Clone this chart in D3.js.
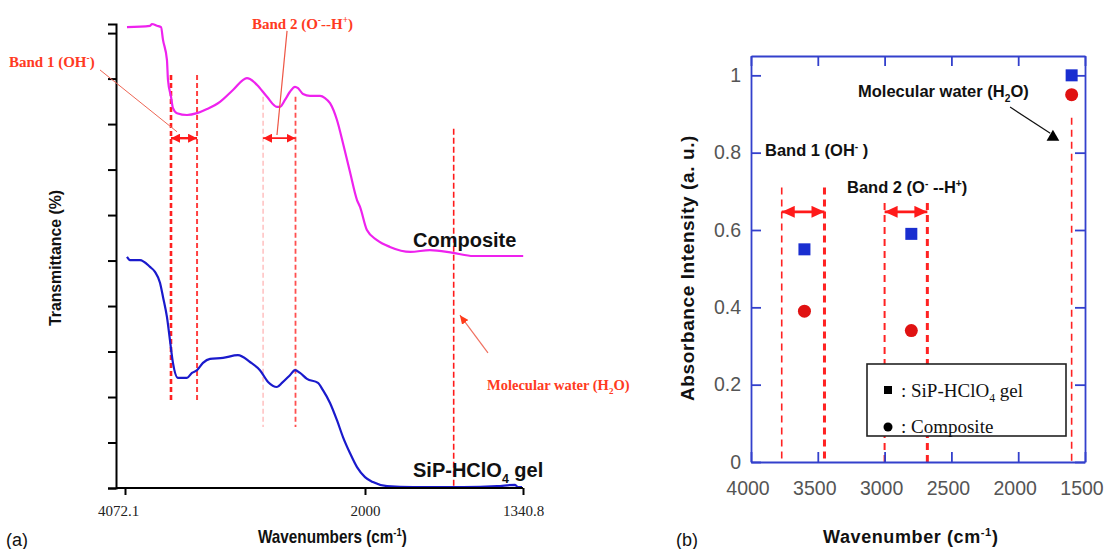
<!DOCTYPE html>
<html><head><meta charset="utf-8">
<script src="https://cdn.jsdelivr.net/npm/d3@7"></script>
<style>body{margin:0;background:#fff} svg{display:block}</style>
</head><body>
<svg id="chart" width="1106" height="549"></svg>
<script>
// ---------- Panel (a): FTIR transmittance spectra ----------
const wnGel = [4055,4029,3943,3856,3813,3770,3744,3710,3684,3658,3615,3537,3494,3450,3399,3338,3226,3097,2993,2907,2837,2760,2717,2648,2604,2561,2501,2406,2363,2302,2242,2190,2130,2069,2000,1967,1908,1800,1591,1449,1374,1362,1345];
const tGel  = [50.8,50.1,50.1,48.6,47.5,45.1,42.0,37.6,32.5,27.5,24.2,24.2,25.3,25.9,27.5,28.4,28.6,29.2,27.7,25.9,23.3,22.2,23.1,24.8,25.9,25.3,24.0,23.1,21.5,18.7,14.9,11.2,7.7,4.6,2.4,1.3,0.4,0.2,0.2,0.4,0.7,0.2,0.2];
const wnComp = [4055,3856,3839,3796,3761,3744,3710,3701,3675,3658,3623,3537,3450,3364,3252,3140,3019,2993,2932,2846,2760,2734,2691,2648,2604,2578,2535,2475,2388,2345,2302,2242,2190,2130,2069,2043,1992,1950,1896,1811,1729,1633,1548,1340];
const tComp  = [101.3,101.6,102.0,101.6,101.3,98.5,94.1,89.7,86.0,83.5,82.4,82.0,82.4,83.3,84.9,87.5,90.1,89.9,88.6,86.0,83.8,83.8,85.3,87.1,88.2,87.9,86.6,86.2,86.2,85.7,84.6,80.9,75.8,69.5,63.3,61.8,56.7,54.5,53.0,51.9,52.3,51.7,51.0,51.0];
const xTicksA = [4072.1, 2000, 1340.8];
const xTickLabelsA = ["4072.1", "2000", "1340.8"];
const yTicksA = [0,10,20,30,40,50,60,70,80,90,100];
// band marker lines (wavenumber, top value, bottom value)
const bandLinesA = [3675, 3450, 2880, 2600];
const bandTopA = [90.8, 90.8, 86.0, 86.0];
const bandBotA = [18.7, 18.7, 13.4, 13.4];
const waterLineA = 1630;

// ---------- Panel (b): absorbance intensity ----------
const wnB = [3600, 2800, 1600];
const gelB = [0.55, 0.59, 1.0];
const compB = [0.39, 0.34, 0.95];
const xTicksB = [4000, 3500, 3000, 2500, 2000, 1500];
const yTicksB = [0, 0.2, 0.4, 0.6, 0.8, 1];
const bandLinesB = [3770, 3450, 3000, 2680, 1600];
const bandTopB = [0.71, 0.71, 0.67, 0.67, 0.89];

const svg = d3.select("#chart");
svg.append("rect").attr("width",1106).attr("height",549).attr("fill","#fff");

function rich(sel, parts, size){
  let shift = 0;
  parts.forEach(([t,k])=>{
    const target = k==='sup' ? -0.38*size : k==='sub' ? 0.28*size : 0;
    const ts = sel.append("tspan").text(t).attr("dy", target - shift);
    if(k!=='n') ts.attr("font-size", size*0.62);
    shift = target;
  });
  return sel;
}
function arrowMarker(id, color, w, h){
  const m = svg.append("defs").append("marker").attr("id",id)
    .attr("viewBox",`0 0 ${w} ${h}`).attr("refX",w).attr("refY",h/2)
    .attr("markerWidth",w).attr("markerHeight",h).attr("markerUnits","userSpaceOnUse")
    .attr("orient","auto-start-reverse");
  m.append("path").attr("d",`M0,0L${w},${h/2}L0,${h}Z`).attr("fill",color);
}
arrowMarker("arA","#ff1a1a",9,9);
arrowMarker("arW","#ff3b1a",9,8);
arrowMarker("arB","#ff1a1a",13,12);

// ===== Panel (a) =====
const xA = d3.scaleLinear().domain([4072.1, 2000, 1340.8]).range([125, 365, 523]);
const yA = d3.scaleLinear().domain([0, 102]).range([488, 24]);
const gA = svg.append("g");

// band lines
const redA = ["#ff2020","#ff4040","#ffb0b0","#ff5050"];
const wA = [2.6, 2, 1.2, 1.8];
bandLinesA.forEach((w,i)=>{
  gA.append("line").attr("x1",xA(w)).attr("x2",xA(w)).attr("y1",yA(bandTopA[i])).attr("y2",yA(bandBotA[i]))
    .attr("stroke",redA[i]).attr("stroke-width",wA[i]).attr("stroke-dasharray","5,3");
});
gA.append("line").attr("x1",xA(waterLineA)).attr("x2",xA(waterLineA)).attr("y1",yA(79)).attr("y2",yA(0))
  .attr("stroke","#ff1a1a").attr("stroke-width",1.6).attr("stroke-dasharray","6,3");

// spectra
const lineA = d3.line().x(d=>xA(d[0])).y(d=>yA(d[1])).curve(d3.curveMonotoneX);
gA.append("path").datum(wnGel.map((w,i)=>[w,tGel[i]])).attr("d",lineA)
  .attr("fill","none").attr("stroke","#1a1acc").attr("stroke-width",2.2);
gA.append("path").datum(wnComp.map((w,i)=>[w,tComp[i]])).attr("d",lineA)
  .attr("fill","none").attr("stroke","#ee22ee").attr("stroke-width",2.2);

// axes
const yAxA = gA.append("g").attr("transform","translate(116,0)")
  .call(d3.axisLeft(yA).tickValues(yTicksA).tickSize(8).tickSizeOuter(8).tickFormat(""));
yAxA.selectAll("path,line").attr("stroke","#000").attr("stroke-width",2);
gA.append("line").attr("x1",116).attr("x2",xA(1340.8)).attr("y1",yA(0)).attr("y2",yA(0))
  .attr("stroke","#000").attr("stroke-width",2);
const xAxA = gA.append("g").attr("transform",`translate(0,${yA(0)})`)
  .call(d3.axisBottom(xA).tickValues(xTicksA).tickSize(7).tickPadding(10)
  .tickFormat((d,i)=>xTickLabelsA[i]));
xAxA.select(".domain").remove();
xAxA.selectAll("line").attr("stroke","#000").attr("stroke-width",2);
xAxA.selectAll("text").attr("font-family","Liberation Serif, Times New Roman, serif")
  .attr("font-size",15).attr("fill","#222").attr("dx",(d,i)=>i===0?-7:0);

// annotations (a)
const serifB = "Liberation Serif, Times New Roman, serif";
const sans = "Liberation Sans, Arial, sans-serif";
gA.append("line").attr("x1",xA(2880)).attr("x2",xA(2600)).attr("y1",yA(76.9)).attr("y2",yA(76.9))
  .attr("stroke","#ff1a1a").attr("stroke-width",1.8).attr("marker-start","url(#arA)").attr("marker-end","url(#arA)");
gA.append("line").attr("x1",xA(3675)).attr("x2",xA(3450)).attr("y1",yA(76.9)).attr("y2",yA(76.9))
  .attr("stroke","#ff1a1a").attr("stroke-width",2.4).attr("marker-start","url(#arA)").attr("marker-end","url(#arA)");
gA.append("line").attr("x1",xA(4288)).attr("y1",yA(91.9)).attr("x2",xA(3623)).attr("y2",yA(78.3))
  .attr("stroke","#ee6655").attr("stroke-width",1);
gA.append("line").attr("x1",xA(2673)).attr("y1",yA(100.5)).attr("x2",xA(2760)).attr("y2",yA(77.6))
  .attr("stroke","#ee5544").attr("stroke-width",1.2);
gA.append("line").attr("x1",xA(1487)).attr("y1",yA(29.7)).attr("x2",xA(1604)).attr("y2",yA(38.0))
  .attr("stroke","#f07060").attr("stroke-width",1.2).attr("marker-end","url(#arW)");

rich(gA.append("text").attr("x",9).attr("y",67).attr("font-family",serifB).attr("font-weight","bold")
  .attr("font-size",15).attr("fill","#ff3a22"), [["Band 1 (OH",'n'],["-",'sup'],[")",'n']], 15);
rich(gA.append("text").attr("x",252).attr("y",29).attr("font-family",serifB).attr("font-weight","bold")
  .attr("font-size",15).attr("fill","#ff3a22"), [["Band 2 (O",'n'],["-",'sup'],["--H",'n'],["+",'sup'],[")",'n']], 15);
rich(gA.append("text").attr("x",487).attr("y",390).attr("font-family",serifB).attr("font-weight","bold")
  .attr("font-size",14.5).attr("fill","#ff3a22"), [["Molecular water (H",'n'],["2",'sub'],["O)",'n']], 14.5);

gA.append("text").attr("x",413).attr("y",247).attr("font-family",sans).attr("font-weight","bold")
  .attr("font-size",20).attr("fill","#111").text("Composite");
rich(gA.append("text").attr("x",413).attr("y",477).attr("font-family",sans).attr("font-weight","bold")
  .attr("font-size",20).attr("fill","#111"), [["SiP-HClO",'n'],["4",'sub'],[" gel",'n']], 20);

gA.append("text").attr("transform","translate(61,258) rotate(-90) scale(0.93,1)").attr("text-anchor","middle")
  .attr("font-family",sans).attr("font-weight","bold").attr("font-size",17).attr("fill","#111")
  .text("Transmittance (%)");
rich(gA.append("text").attr("transform","translate(258,543) scale(0.85,1)").attr("font-family",sans).attr("font-weight","bold")
  .attr("font-size",18).attr("fill","#111"),
  [["Wavenumbers (cm",'n'],["-1",'sup'],[")",'n']], 18);
gA.append("text").attr("x",6).attr("y",546).attr("font-family",sans).attr("font-size",18).attr("fill","#111").text("(a)");

// ===== Panel (b) =====
const xB = d3.scaleLinear().domain([4000, 1500]).range([751, 1085]);
const yB = d3.scaleLinear().domain([0, 1.05]).range([462, 56]);
const gB = svg.append("g");
const blueFrame = "#3340cc";

// dashed band lines
const wB = [1.6, 3, 2, 3, 1.6];
bandLinesB.forEach((w,i)=>{
  gB.append("line").attr("x1",xB(w)).attr("x2",xB(w)).attr("y1",yB(bandTopB[i])).attr("y2",yB(0))
    .attr("stroke","#ff2222").attr("stroke-width",wB[i]).attr("stroke-dasharray","7,5");
});
// double arrows
[[3770,3450],[3000,2680]].forEach(p=>{
  gB.append("line").attr("x1",xB(p[0])).attr("x2",xB(p[1])).attr("y1",yB(0.647)).attr("y2",yB(0.647))
    .attr("stroke","#ff1a1a").attr("stroke-width",2.6).attr("marker-start","url(#arB)").attr("marker-end","url(#arB)");
});

// axes (frame with inward ticks)
const axB = d3.axisBottom(xB).tickValues(xTicksB).tickSize(-10).tickSizeOuter(0).tickPadding(19).tickFormat(d3.format("d"));
const xAxB = gB.append("g").attr("transform",`translate(0,${yB(0)})`).call(axB);
const xAxBt = gB.append("g").attr("transform",`translate(0,${yB(1.05)})`)
  .call(d3.axisTop(xB).tickValues(xTicksB).tickSize(-10).tickSizeOuter(0).tickFormat(""));
const yAxB = gB.append("g").attr("transform",`translate(${xB(4000)},0)`)
  .call(d3.axisLeft(yB).tickValues(yTicksB).tickSize(-10).tickSizeOuter(0).tickPadding(10).tickFormat(d=>d===0||d===1?String(d):d.toFixed(1)));
const yAxBr = gB.append("g").attr("transform",`translate(${xB(1500)},0)`)
  .call(d3.axisRight(yB).tickValues(yTicksB).tickSize(-10).tickSizeOuter(0).tickFormat(""));
[xAxB,xAxBt,yAxB,yAxBr].forEach(a=>{
  a.selectAll("path,line").attr("stroke",blueFrame).attr("stroke-width",1.8);
  a.selectAll("text").attr("font-family",sans).attr("font-size",19.5).attr("fill","#555");
});
xAxB.selectAll("text").attr("dx",-3.5);

// points
gB.selectAll("rect.gel").data(wnB).join("rect").attr("class","gel")
  .attr("x",d=>xB(d)-6).attr("y",(d,i)=>yB(gelB[i])-6).attr("width",12).attr("height",12).attr("fill","#1a2ed0");
gB.selectAll("circle.comp").data(wnB).join("circle").attr("class","comp")
  .attr("cx",d=>xB(d)).attr("cy",(d,i)=>yB(compB[i])).attr("r",6.5).attr("fill","#e01212");

// molecular water arrow
gB.append("line").attr("x1",xB(2061)).attr("y1",yB(0.918)).attr("x2",xB(1760)).attr("y2",yB(0.85))
  .attr("stroke","#111").attr("stroke-width",1.2);
gB.append("path").attr("d",d3.symbol(d3.symbolTriangle,70)())
  .attr("transform",`translate(${xB(1740)},${yB(0.84)})`).attr("fill","#000");

// texts (b)
rich(gB.append("text").attr("x",858).attr("y",97).attr("font-family",sans).attr("font-weight","bold")
  .attr("font-size",16.5).attr("fill","#111"),
  [["Molecular water (H",'n'],["2",'sub'],["O)",'n']], 16.5);
rich(gB.append("text").attr("x",765).attr("y",156).attr("font-family",sans).attr("font-weight","bold")
  .attr("font-size",16.5).attr("fill","#111"), [["Band 1 (OH",'n'],["-",'sup'],[" )",'n']], 16.5);
rich(gB.append("text").attr("x",847).attr("y",193).attr("font-family",sans).attr("font-weight","bold")
  .attr("font-size",16.5).attr("fill","#111"), [["Band 2 (O",'n'],["-",'sup'],[" --H",'n'],["+",'sup'],[")",'n']], 16.5);

// legend
gB.append("rect").attr("x",867).attr("y",364).attr("width",199).attr("height",72)
  .attr("fill","#fff").attr("stroke","#222").attr("stroke-width",1.6);
gB.append("rect").attr("x",884).attr("y",386).attr("width",8).attr("height",8).attr("fill","#000");
gB.append("circle").attr("cx",888).attr("cy",427).attr("r",4.5).attr("fill","#000");
rich(gB.append("text").attr("x",901).attr("y",397).attr("font-family",serifB).attr("font-size",19).attr("fill","#111"),
  [[": SiP-HClO",'n'],["4",'sub'],[" gel",'n']], 19);
gB.append("text").attr("x",901).attr("y",433).attr("font-family",serifB).attr("font-size",19).attr("fill","#111").text(": Composite");

// axis titles (b)
gB.append("text").attr("transform","translate(694,268) rotate(-90)").attr("text-anchor","middle")
  .attr("font-family",sans).attr("font-weight","bold").attr("font-size",19).attr("fill","#111")
  .attr("letter-spacing",0.6).text("Absorbance Intensity (a. u.)");
rich(gB.append("text").attr("x",823).attr("y",543).attr("font-family",sans).attr("font-weight","bold")
  .attr("font-size",18).attr("fill","#111").attr("letter-spacing",0.6),
  [["Wavenumber (cm",'n'],["-1",'sup'],[")",'n']], 18);
gB.append("text").attr("x",676).attr("y",546).attr("font-family",sans).attr("font-size",18).attr("fill","#111").text("(b)");
</script>
</body></html>
